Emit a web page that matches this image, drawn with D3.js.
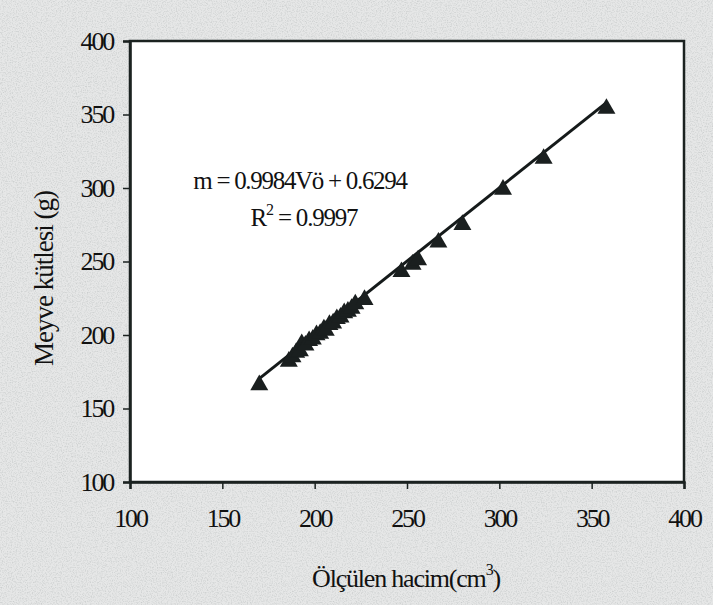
<!DOCTYPE html>
<html>
<head>
<meta charset="utf-8">
<script src="https://cdn.jsdelivr.net/npm/d3@7"></script>
<style>
  body { margin: 0; background: #e2e2e2; }
  svg { display: block; }
  text { font-family: "Liberation Serif", "Times New Roman", serif; fill: #111; }
</style>
</head>
<body>
<svg id="chart" width="713" height="605"></svg>
<script>
var volume = [170, 186, 188, 190, 192, 193, 195, 197, 199, 201, 203, 205, 206, 208, 210,
  212, 214, 216, 218, 220, 222, 227, 247, 253, 256, 267, 280, 302, 324, 358];
var mass = [166, 182, 185, 188, 189, 194, 193, 196, 197, 200, 201, 204, 203, 207, 208,
  211, 212, 215, 216, 218, 221, 224, 243, 248, 251, 263, 275, 299, 320, 354];
var xTicks = [100, 150, 200, 250, 300, 350, 400];
var yTicks = [100, 150, 200, 250, 300, 350, 400];
var slope = 0.9984, intercept = 0.6294;

var svg = d3.select("#chart"),
  margin = { top: 41, right: 29, bottom: 123, left: 130 },
  width = +svg.attr("width"),
  height = +svg.attr("height");

// scanned paper look
var defs = svg.append("defs");
var f = defs.append("filter").attr("id", "paper").attr("x", 0).attr("y", 0)
  .attr("width", "100%").attr("height", "100%");
f.append("feTurbulence").attr("type", "fractalNoise").attr("baseFrequency", 0.8)
  .attr("numOctaves", 2).attr("seed", 3).attr("result", "n");
f.append("feColorMatrix").attr("type", "matrix")
  .attr("values", "0 0 0 0 0.6  0 0 0 0 0.62  0 0 0 0 0.62  0 0 0 -2.2 1.25");
svg.append("rect").attr("width", width).attr("height", height).attr("fill", "#e6e7e7");
svg.append("rect").attr("width", width).attr("height", height).attr("filter", "url(#paper)");

var x = d3.scaleLinear().domain([100, 400]).range([margin.left, width - margin.right]);
var y = d3.scaleLinear().domain([100, 400]).range([height - margin.bottom, margin.top]);

svg.append("rect")
  .attr("x", x(100)).attr("y", y(400))
  .attr("width", x(400) - x(100)).attr("height", y(100) - y(400))
  .attr("fill", "#fff")
  .attr("stroke", "#1b2220").attr("stroke-width", 2.5);

var xAxis = svg.append("g")
  .attr("transform", "translate(0," + y(100) + ")")
  .call(d3.axisBottom(x).tickValues(xTicks).tickSize(7).tickPadding(20).tickFormat(d3.format("d")));
var yAxis = svg.append("g")
  .attr("transform", "translate(" + x(100) + ",0)")
  .call(d3.axisLeft(y).tickValues(yTicks).tickSize(7).tickPadding(10).tickFormat(d3.format("d")));

[xAxis, yAxis].forEach(function (g) {
  g.attr("font-size", null).attr("font-family", null);
  g.select(".domain").attr("stroke", "#1b2220").attr("stroke-width", 2.5);
  g.selectAll(".tick line").attr("stroke", "#1b2220").attr("stroke-width", 1.5);
  g.selectAll(".tick text")
    .style("font-size", "26px").attr("fill", "#111")
    .style("letter-spacing", "-2.2px");
});

// trendline over the data range
var xr = d3.extent(volume);
svg.append("line")
  .attr("x1", x(xr[0])).attr("y1", y(slope * xr[0] + intercept))
  .attr("x2", x(xr[1])).attr("y2", y(slope * xr[1] + intercept))
  .attr("stroke", "#151a1a").attr("stroke-width", 3);

var tri = d3.symbol().type(d3.symbolTriangle).size(140);
svg.selectAll(".pt")
  .data(volume.map(function (v, i) { return { v: v, m: mass[i] }; }))
  .enter().append("path")
  .attr("class", "pt")
  .attr("d", tri)
  .attr("transform", function (d) { return "translate(" + x(d.v) + "," + y(d.m) + ")"; })
  .attr("fill", "#1a1f1f");

// equation
svg.append("text")
  .attr("x", 300).attr("y", 189)
  .attr("text-anchor", "middle")
  .style("font-size", "25px")
  .style("letter-spacing", "-1.3px")
  .text("m = 0.9984Vö + 0.6294");
var r2 = svg.append("text")
  .attr("x", 304).attr("y", 226)
  .attr("text-anchor", "middle")
  .style("font-size", "25px")
  .style("letter-spacing", "-1.2px");
r2.append("tspan").text("R");
r2.append("tspan").style("font-size", "16px").attr("dy", -11).text("2");
r2.append("tspan").attr("dy", 11).text(" = 0.9997");

// axis titles
svg.append("text")
  .attr("transform", "translate(53," + (y(250) + 17) + ") rotate(-90)")
  .attr("text-anchor", "middle")
  .style("font-size", "27px")
  .style("letter-spacing", "-1px")
  .text("Meyve kütlesi (g)");

var xt = svg.append("text")
  .attr("x", 406).attr("y", 587)
  .attr("text-anchor", "middle")
  .style("font-size", "26px")
  .style("letter-spacing", "-1.2px");
xt.append("tspan").text("Ölçülen hacim(cm");
xt.append("tspan").style("font-size", "16px").attr("dy", -12).text("3");
xt.append("tspan").attr("dy", 12).text(")");
</script>
</body>
</html>
